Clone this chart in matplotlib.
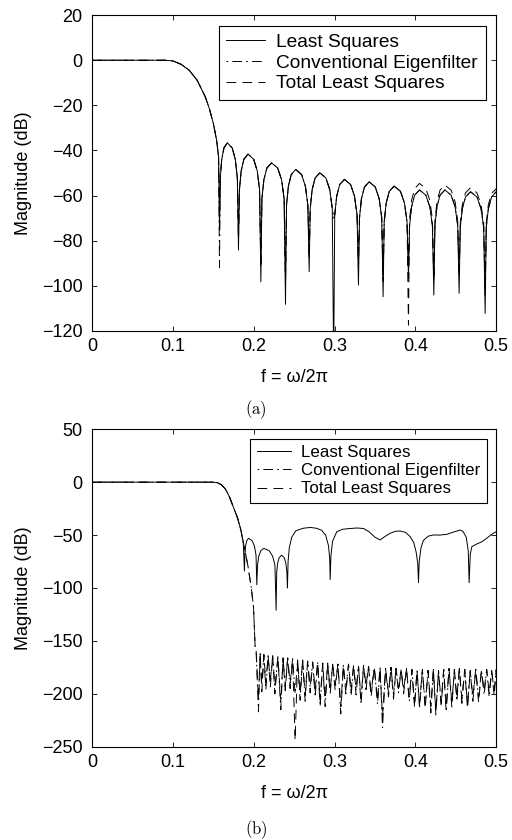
import numpy as np
import matplotlib
matplotlib.use("Agg")
import matplotlib.pyplot as plt

# ---- panel (a): passband shared by all three designs ----
pass_f_a = [0.0, 0.06, 0.09, 0.10, 0.11, 0.12, 0.13, 0.14, 0.145, 0.15, 0.154, 0.1565]
pass_db_a = [0.0, 0.0, 0.0, -0.3, -1.8, -4.4, -8.9, -16.2, -21.4, -28.0, -35.4, -43.0]

# stopband of panel (a), one row per sidelobe (null first)
stop_f_a = [
    0.1576, 0.15858, 0.16033, 0.16306, 0.16735, 0.17340, 0.17725, 0.17973,
    0.1811, 0.18229, 0.18442, 0.18774, 0.19295, 0.19992, 0.20436, 0.20722,
    0.2088, 0.21013, 0.21251, 0.21622, 0.22205, 0.22964, 0.23447, 0.23758,
    0.2393, 0.24057, 0.24284, 0.24638, 0.25195, 0.25928, 0.26394, 0.26694,
    0.2686, 0.26992, 0.27228, 0.27596, 0.28175, 0.28930, 0.29410, 0.29719,
    0.2989, 0.30024, 0.30264, 0.30638, 0.31225, 0.31988, 0.32474, 0.32787,
    0.3296, 0.33093, 0.33331, 0.33702, 0.34285, 0.35044, 0.35527, 0.35838,
    0.3601, 0.36147, 0.36394, 0.36777, 0.37380, 0.38159, 0.38654, 0.38973,
    0.3915, 0.39287, 0.39534, 0.39917, 0.40520, 0.41299, 0.41794, 0.42113,
    0.4229, 0.42427, 0.42672, 0.43054, 0.43655, 0.44432, 0.44926, 0.45244,
    0.4542, 0.45561, 0.45815, 0.46210, 0.46830, 0.47626, 0.48133, 0.48459,
    0.4864, 0.48780, 0.49040, 0.49440, 0.50000]
ls_stop_a = [
    -75.3, -52.4, -44.1, -38.9, -36.6, -38.9, -44.1, -52.4,
    -84.1, -57.4, -49.1, -43.9, -41.6, -43.9, -49.1, -57.4,
    -98.2, -61.3, -53.0, -47.8, -45.5, -47.8, -53.0, -61.3,
    -108.2, -64.2, -55.9, -50.7, -48.4, -50.7, -55.9, -64.2,
    -93.7, -65.7, -57.4, -52.2, -49.9, -52.2, -57.4, -65.7,
    -135.0, -68.6, -60.3, -55.1, -52.8, -55.1, -60.3, -68.6,
    -99.6, -69.7, -61.4, -56.2, -53.9, -56.2, -61.4, -69.7,
    -104.8, -71.6, -63.3, -58.1, -55.8, -58.1, -63.3, -71.6,
    -96.7, -73.3, -65.0, -59.8, -57.5, -59.8, -65.0, -73.3,
    -104.1, -73.3, -65.0, -59.8, -57.5, -59.8, -65.0, -73.3,
    -103.3, -74.1, -65.8, -60.6, -58.3, -60.6, -65.8, -74.1,
    -112.2, -74.0, -65.8, -60.6, -58.3]
ce_stop_a = [
    -92.0, -52.4, -44.1, -38.9, -36.6, -38.9, -44.1, -52.4,
    -78.0, -57.4, -49.1, -43.9, -41.6, -43.9, -49.1, -57.4,
    -90.0, -61.3, -53.0, -47.8, -45.5, -47.8, -53.0, -61.3,
    -96.0, -64.2, -55.9, -50.7, -48.4, -50.7, -55.9, -64.2,
    -85.0, -65.7, -57.4, -52.2, -49.9, -52.2, -57.4, -65.7,
    -70.0, -68.6, -60.3, -55.1, -52.8, -55.1, -60.3, -68.6,
    -88.0, -69.7, -61.4, -56.2, -53.9, -56.2, -61.4, -69.7,
    -95.0, -71.6, -63.3, -58.1, -55.8, -58.1, -63.3, -71.6,
    -88.0, -73.3, -65.0, -59.8, -57.5, -59.8, -65.0, -73.3,
    -96.0, -73.3, -65.0, -59.8, -57.5, -59.8, -65.0, -73.3,
    -95.0, -74.1, -65.8, -60.6, -58.3, -60.6, -65.8, -74.1,
    -100.0, -74.0, -65.8, -60.6, -58.3]
tls_stop_a = [
    -70.0, -52.4, -44.1, -38.9, -36.6, -38.9, -44.1, -52.4,
    -80.0, -57.4, -49.1, -43.9, -41.6, -43.9, -49.1, -57.4,
    -92.0, -61.3, -53.0, -47.8, -45.5, -47.8, -53.0, -61.3,
    -100.0, -64.2, -55.9, -50.7, -48.4, -50.7, -55.9, -64.2,
    -88.0, -65.7, -57.4, -52.2, -49.9, -52.2, -57.4, -65.7,
    -68.0, -68.6, -60.3, -55.1, -52.8, -55.1, -60.3, -68.6,
    -92.0, -69.7, -61.4, -56.2, -53.9, -56.2, -61.4, -69.7,
    -98.0, -71.6, -63.3, -58.1, -55.8, -58.1, -63.3, -71.6,
    -117.4, -70.4, -62.1, -56.9, -54.6, -56.9, -62.1, -70.4,
    -98.0, -71.1, -62.8, -57.6, -55.3, -57.6, -62.8, -71.1,
    -96.0, -72.3, -64.0, -58.8, -56.5, -58.8, -64.0, -72.3,
    -104.0, -72.0, -64.0, -59.0, -57.0]

# ---- panel (b) ----
pass_f_b = [0.0, 0.10, 0.150, 0.155, 0.160, 0.165, 0.170, 0.175, 0.180, 0.184, 0.1852]
pass_db_b = [0.0, 0.0, 0.0, -0.5, -2.5, -6.5, -14.0, -24.0, -34.0, -45.0, -50.0]

ls_f_b = [
    0.1870, 0.1885, 0.1890, 0.1899, 0.1913, 0.1935, 0.1980, 0.2009, 0.2028,
    0.2038, 0.2047, 0.2062, 0.2087, 0.2125, 0.2192, 0.2234, 0.2262,
    0.2277, 0.2284, 0.2296, 0.2315, 0.2345, 0.2377, 0.2397, 0.2410,
    0.2417, 0.2425, 0.2440, 0.2470, 0.2520, 0.2574, 0.2616, 0.2700, 0.2780,
    0.2840, 0.2890, 0.2925, 0.2940,
    0.2946, 0.2955, 0.2975, 0.3028, 0.3100, 0.3190, 0.3280, 0.3360, 0.3430,
    0.3500, 0.3564, 0.3620, 0.3688, 0.3750, 0.3810, 0.3880, 0.3936, 0.3980,
    0.4010, 0.4030,
    0.4039, 0.4048, 0.4070, 0.4100, 0.4160, 0.4224, 0.4300, 0.4390, 0.4450,
    0.4554, 0.4590, 0.4630, 0.4655,
    0.4666, 0.4680, 0.4700, 0.4760, 0.4820, 0.4884, 0.4940, 0.5000]
ls_db_b = [
    -57.0, -84.0, -68.8, -60.5, -55.3, -53.0, -55.3, -60.5, -68.8,
    -97.0, -78.3, -70.0, -64.8, -62.5, -64.8, -70.0, -78.3,
    -121.0, -84.8, -76.5, -71.3, -69.0, -71.3, -76.5, -84.8,
    -100.0, -75.0, -62.0, -52.0, -46.0, -44.5, -43.5, -42.8, -43.6,
    -45.5, -50.0, -60.0, -72.0,
    -92.0, -70.0, -56.0, -46.8, -44.5, -43.8, -43.3, -43.8, -47.0,
    -52.0, -54.6, -51.5, -48.3, -46.5, -46.1, -47.5, -51.5, -57.0,
    -66.0, -77.0,
    -95.0, -75.0, -62.0, -55.0, -51.0, -49.9, -50.0, -49.3, -47.7,
    -45.2, -46.5, -52.0, -65.0,
    -95.0, -68.0, -60.9, -58.4, -56.5, -53.0, -49.5, -46.8]

# eigenfilter / TLS roll-off into the deep stopband
trans_f_b = [0.1885, 0.1930, 0.1970, 0.1997, 0.2017, 0.2030]
trans_db_b = [-62.0, -80.0, -100.0, -118.0, -155.0, -160.0]

null_f_b = [
    0.2058, 0.2100, 0.2150, 0.2205, 0.2262, 0.2335, 0.2390, 0.2450, 0.2512, 0.2574,
    0.2636, 0.2698, 0.2760, 0.2822, 0.2884, 0.2946, 0.3007, 0.3077, 0.3140, 0.3205,
    0.3266, 0.3328, 0.3390, 0.3452, 0.3532, 0.3594, 0.3668, 0.3730, 0.3792, 0.3855,
    0.3924, 0.3990, 0.4052, 0.4122, 0.4192, 0.4254, 0.4320, 0.4382, 0.4452, 0.4514,
    0.4576, 0.4646, 0.4712, 0.4783, 0.4852, 0.4914, 0.4976]
peak_f_b = [
    0.2079, 0.2125, 0.2178, 0.2234, 0.2299, 0.2363, 0.2420, 0.2481, 0.2543, 0.2605,
    0.2667, 0.2729, 0.2791, 0.2853, 0.2915, 0.2977, 0.3042, 0.3109, 0.3173, 0.3236,
    0.3297, 0.3359, 0.3421, 0.3492, 0.3563, 0.3631, 0.3699, 0.3761, 0.3824, 0.3890,
    0.3957, 0.4021, 0.4087, 0.4157, 0.4223, 0.4287, 0.4351, 0.4417, 0.4483, 0.4545,
    0.4611, 0.4679, 0.4748, 0.4818, 0.4883, 0.4945, 0.5000]
peak_db_b = [
    -162, -163, -164, -164, -165, -166, -166, -167, -168, -168,
    -169, -170, -170, -171, -171, -172, -172, -173, -172, -173,
    -174, -173, -174, -175, -175, -176, -175, -176, -177, -176,
    -177, -178, -177, -178, -177, -178, -177, -176, -177, -176,
    -177, -178, -177, -178, -177, -178, -177]
ce_null_b = [
    -217, -192, -196, -188, -194, -215, -193, -195, -200, -206,
    -207, -194, -203, -212, -212, -196, -196, -219, -196, -202,
    -196, -210, -196, -199, -210, -232, -203, -201, -199, -196,
    -207, -209, -214, -210, -218, -217, -212, -217, -209, -207,
    -209, -210, -207, -204, -201, -203, -198]
tls_null_b = [
    -205, -198, -190, -194, -200, -208, -197, -190, -244, -200,
    -201, -199, -197, -206, -205, -200, -192, -212, -200, -197,
    -201, -205, -192, -203, -206, -222, -199, -205, -195, -200,
    -203, -213, -210, -214, -212, -220, -208, -212, -213, -203,
    -205, -214, -203, -208, -197, -199, -202]

plt.rcParams.update({
    "font.family": ["Liberation Sans", "DejaVu Sans"],
    "font.size": 13,
    "mathtext.fontset": "cm",
    "axes.linewidth": 0.8,
    "lines.linewidth": 0.7,
    "lines.scale_dashes": False,
    "xtick.direction": "in",
    "ytick.direction": "in",
    "xtick.top": True,
    "ytick.right": True,
    "xtick.major.size": 3.5,
    "ytick.major.size": 3.5,
    "xtick.major.width": 0.6,
    "ytick.major.width": 0.6,
    "xtick.major.pad": 5,
    "ytick.major.pad": 7,
})

LS_STYLE = "-"
CE_STYLE = (0, (1.2, 3.0, 7.0, 3.0))
TLS_STYLE = (0, (7.0, 4.5))


def interleave(a, b):
    return list(np.column_stack([a, b]).ravel())


def draw_panel(ax, curves, ylim, yticks, legend_size):
    for (f, db), ls, name in zip(curves, [LS_STYLE, CE_STYLE, TLS_STYLE],
                                 ["Least Squares", "Conventional Eigenfilter",
                                  "Total Least Squares"]):
        ax.plot(f, db, color="black", linestyle=ls, linewidth=0.7, label=name)
    ax.set_xlim(0, 0.5)
    ax.set_ylim(*ylim)
    ax.set_xticks([0, 0.1, 0.2, 0.3, 0.4, 0.5])
    ax.set_xticklabels(["0", "0.1", "0.2", "0.3", "0.4", "0.5"])
    ax.set_yticks(yticks)
    ax.set_xlabel("f = ω/2π")
    ax.set_ylabel("Magnitude (dB)")
    ax.xaxis.set_label_coords(0.5, -0.122)
    ax.yaxis.set_label_coords(-0.15, 0.5)
    leg = ax.legend(loc="upper right", fontsize=legend_size, fancybox=False,
                    edgecolor="black", framealpha=1, borderpad=0.4,
                    labelspacing=0.18, handlelength=2.0, handletextpad=0.6,
                    borderaxespad=0.55)
    leg.get_frame().set_linewidth(0.8)


fig = plt.figure(figsize=(5.12, 8.4), dpi=100)
ax_a = fig.add_axes([0.180, 0.606, 0.789, 0.376])
ax_b = fig.add_axes([0.180, 0.111, 0.789, 0.378])

f_a = pass_f_a + stop_f_a
draw_panel(ax_a,
           [(f_a, pass_db_a + ls_stop_a),
            (f_a, pass_db_a + ce_stop_a),
            (f_a, pass_db_a + tls_stop_a)],
           (-120, 20), range(-120, 21, 20), 13.8)

f_ls_b = pass_f_b + ls_f_b
f_deep_b = pass_f_b + trans_f_b + interleave(null_f_b, peak_f_b)
draw_panel(ax_b,
           [(f_ls_b, pass_db_b + ls_db_b),
            (f_deep_b, pass_db_b + trans_db_b + interleave(ce_null_b, peak_db_b)),
            (f_deep_b, pass_db_b + trans_db_b + interleave(tls_null_b, peak_db_b))],
           (-250, 50), range(-250, 51, 50), 12.2)

fig.text(0.5, 1 - 410 / 840, r"$\mathrm{(a)}$", ha="center", va="center", fontsize=12)
fig.text(0.5, 1 - 830 / 840, r"$\mathrm{(b)}$", ha="center", va="center", fontsize=12)

fig.savefig("out.png", dpi=100)
